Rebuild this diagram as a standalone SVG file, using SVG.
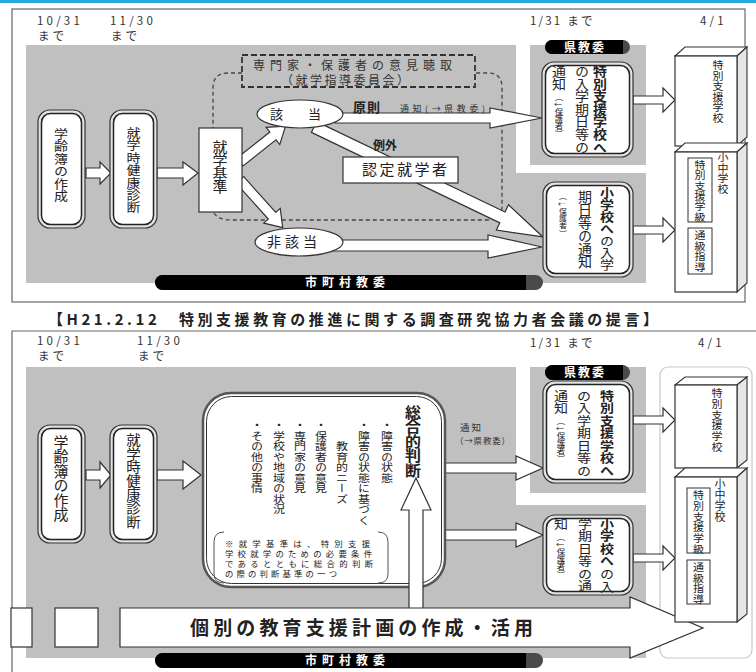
<svg xmlns="http://www.w3.org/2000/svg" width="756" height="672" viewBox="0 0 756 672" font-family="'Noto Sans CJK JP', 'Noto Sans CJK SC', sans-serif">
<style>
text { fill:#222; }
.v { writing-mode: vertical-rl; }
.gray { fill:#c0c0c0; }
.frame { fill:none; stroke:#666; stroke-width:1.2; }
.arr { fill:#fff; stroke:#333; stroke-width:1.2; }
.bo { fill:#e2e2e2; stroke:#333; stroke-width:1.2; }
.bi { fill:#fff; stroke:#222; stroke-width:1.5; }
.box { fill:#fff; stroke:#333; stroke-width:1.2; }
.side { fill:#e6e6e6; stroke:#333; stroke-width:1.1; }
.top { fill:#fff; stroke:#333; stroke-width:1.1; }
.pillg { fill:#4a4a4a; }
.pillb { fill:#000; }
.pt { fill:#fff; font-weight:bold; font-size:12px; }
.date { font-size:11.5px; fill:#333; }
.dash { fill:none; stroke:#444; stroke-width:1.3; stroke-dasharray:4 3; }
.dashf { fill:none; stroke:#333; stroke-width:1.8; stroke-dasharray:6 3; }
.lbl { fill:#333; }
.note { font-size:8.4px; fill:#222; }
</style>
<rect x="0" y="0" width="756" height="3" fill="#29a8e0"/>

<!-- ===== TOP PANEL ===== -->
<g id="top-panel-bg">
<rect class="frame" x="12" y="9" width="733" height="293"/>
<path class="gray" d="M26,45 H516 V173 H646 V283 H26 Z"/>
<rect class="gray" x="530" y="45" width="116" height="120"/>
<text class="date" x="37" y="24.5" letter-spacing="3.2">10/31</text>
<text class="date" x="38" y="40" letter-spacing="3">まで</text>
<text class="date" x="110" y="24.5" letter-spacing="3.2">11/30</text>
<text class="date" x="111" y="40" letter-spacing="3">まで</text>
<text class="date" x="530" y="25" letter-spacing="2.2">1/31 まで</text>
<text class="date" x="700" y="25" letter-spacing="3.2">4/1</text>
</g>

<g id="connectors-top">
<path class="dash" d="M242,73 H228 Q213,73 213,88 V128"/>
<path class="dash" d="M214,213 Q218,220 232,220 H488 Q502,220 502,206 V88 Q502,73 488,73 H475"/>
<polygon class="arr" points="86,168 100,168 100,162 111,173 100,184 100,178 86,178"/>
<polygon class="arr" points="157,168 183,168 183,162 198,173 183,185 183,178 157,178"/>
<polygon class="arr" transform="translate(240,162) rotate(-38.3)" points="0,-5 42,-5 42,-11 58,0 42,11 42,5 0,5"/>
<polygon class="arr" transform="translate(240,180) rotate(48.1)" points="0,-5 48,-5 48,-11 64,0 48,11 48,5 0,5"/>
<polygon class="arr" points="335,113 490,113 490,108 542,118 490,128 490,123 335,123"/>
<polygon class="arr" transform="translate(314,127) rotate(25.65)" points="0,-6 209,-6 209,-14 254,0 209,14 209,6 0,6"/>
<polygon class="arr" points="330,240 488,240 488,235 542,247 488,258 488,251 330,251"/>
<polygon class="arr" points="633,96 663,96 663,88 675,100 663,112 663,104 633,104"/>
<polygon class="arr" points="633,226 663,226 663,218 675,230 663,242 663,234 633,234"/>
<text x="353" y="112" font-size="13" font-weight="bold" letter-spacing="1">原則</text>
<text class="lbl" x="400" y="111.5" font-size="9" textLength="85" lengthAdjust="spacing">通知(→県教委)</text>
<text x="373" y="150" font-size="12" font-weight="bold">例外</text>
</g>

<g id="t-gakureibo">
<rect class="bo" x="38" y="110" width="47" height="118" rx="12"/>
<rect class="bi" x="41.5" y="113.5" width="40" height="111" rx="9"/>
<text class="v" transform="translate(61,128) scale(1,0.89)" font-size="14">学齢簿の作成</text>
</g>
<g id="t-kenshin">
<rect class="bo" x="110" y="110" width="47" height="118" rx="12"/>
<rect class="bi" x="113.5" y="113.5" width="40" height="111" rx="9"/>
<text class="v" transform="translate(133.5,127) scale(1,0.886)" font-size="14">就学時健康診断</text>
</g>
<g id="t-kijun">
<rect class="box" x="199" y="128" width="43" height="84"/>
<text class="v" transform="translate(220,140) scale(1,0.9)" font-size="15">就学基準</text>
</g>
<g id="t-iken">
<rect class="dashf" x="242" y="55" width="233" height="32"/>
<text class="lbl" x="253" y="70" font-size="12" letter-spacing="5">専門家・保護者の意見聴取</text>
<text class="lbl" x="281" y="85" font-size="12" letter-spacing="2.5">（就学指導委員会）</text>
</g>
<g id="t-gaitou">
<ellipse class="box" cx="300" cy="114" rx="43" ry="14"/>
<text x="270" y="119" font-size="13" letter-spacing="6">該　当</text>
</g>
<g id="t-higaitou">
<ellipse class="box" cx="299" cy="242" rx="44" ry="14"/>
<text x="267" y="247" font-size="14" letter-spacing="4">非該当</text>
</g>
<g id="t-nintei">
<rect class="box" x="343" y="157" width="115" height="26"/>
<text x="362" y="175" font-size="15" letter-spacing="2.5">認定就学者</text>
</g>
<g id="t-kenkyoi">
<rect class="pillg" x="545" y="40" width="85" height="14" rx="7"/>
<path class="pillb" d="M552,40 H623 V54 H552 A7,7 0 0 1 552,40 Z"/>
<text class="pt" x="564" y="51.5" letter-spacing="2">県教委</text>
</g>
<g id="t-notice-tokubetsu">
<rect class="bo" x="542" y="62" width="91" height="95" rx="12"/>
<rect class="bi" x="545.5" y="65.5" width="84" height="88" rx="9"/>
<text class="v" transform="translate(600,65) scale(1,0.9)" font-size="14" font-weight="bold">特別支援学校へ</text>
<text class="v" transform="translate(582,65) scale(1,0.9)" font-size="14">の入学期日等の</text>
<text class="v" transform="translate(559,65) scale(1,0.9)" font-size="14">通知</text>
<text class="v" transform="translate(559,93) scale(1,0.88)" font-size="8.5">（↓保護者）</text>
</g>
<g id="t-notice-shogakko">
<rect class="bo" x="543" y="182" width="90" height="95" rx="12"/>
<rect class="bi" x="546.5" y="185.5" width="83" height="88" rx="9"/>
<text class="v" transform="translate(607,187) scale(1,0.86)" font-size="14"><tspan font-weight="bold">小学校へ</tspan>の入学</text>
<text class="v" transform="translate(585,190) scale(1,0.94)" font-size="14">期日等の通知</text>
<text class="v" transform="translate(563,193) scale(1,0.91)" font-size="8">（↓保護者）</text>
</g>
<g id="t-shichoson">
<rect class="pillg" x="155" y="275" width="388" height="15" rx="7.5"/>
<path class="pillb" d="M162.5,275 H526 V290 H162.5 A7.5,7.5 0 0 1 162.5,275 Z"/>
<text class="pt" x="305" y="286.5" letter-spacing="5">市町村教委</text>
</g>
<g id="t-school-tokubetsu">
<polygon class="top" points="675,56 685,47 747,47 737,56"/>
<polygon class="side" points="737,56 747,47 747,137 737,146"/>
<rect class="box" x="675" y="56" width="62" height="90"/>
<text class="v" transform="translate(718,60) scale(1,0.955)" font-size="11">特別支援学校</text>
</g>
<g id="t-school-shochu">
<polygon class="top" points="675,152 685,143 747,143 737,152"/>
<polygon class="side" points="737,152 747,143 747,283 737,292"/>
<rect class="box" x="675" y="152" width="62" height="140"/>
<text class="v" transform="translate(723,152) scale(1,0.955)" font-size="11">小中学校</text>
<rect fill="none" stroke="#333" stroke-width="1" x="688" y="158" width="24" height="64"/>
<text class="v" transform="translate(700,160) scale(1,0.94)" font-size="11">特別支援学級</text>
<rect fill="none" stroke="#333" stroke-width="1" x="688" y="228" width="24" height="46"/>
<text class="v" transform="translate(700,230) scale(1,0.955)" font-size="11">通級指導</text>
</g>

<text id="title" x="48" y="325" font-size="15" font-weight="bold" textLength="610" lengthAdjust="spacing">【H21.2.12　特別支援教育の推進に関する調査研究協力者会議の提言】</text>

<!-- ===== BOTTOM PANEL ===== -->
<g id="bottom-panel-bg">
<path class="frame" d="M12,672 V331 H756"/>
<path class="gray" d="M26,367 H516 V505 H646 V658 H26 Z"/>
<rect class="gray" x="530" y="367" width="116" height="126"/>
<rect x="660" y="367" width="92" height="291" rx="8" fill="#fff" stroke="#c8c8c8" stroke-width="1.2"/>
<text class="date" x="37" y="344.5" letter-spacing="3.2">10/31</text>
<text class="date" x="38" y="360" letter-spacing="3">まで</text>
<text class="date" x="137" y="344.5" letter-spacing="3.2">11/30</text>
<text class="date" x="138" y="360" letter-spacing="3">まで</text>
<text class="date" x="530" y="347" letter-spacing="2.2">1/31 まで</text>
<text class="date" x="698" y="347" letter-spacing="3.2">4/1</text>
</g>

<g id="connectors-bottom">
<polygon class="arr" points="86,470 100,470 100,462 111,475 100,488 100,480 86,480"/>
<polygon class="arr" points="157,470 183,470 183,461 201,475 183,489 183,480 157,480"/>
<polygon class="arr" points="445,463 516,463 516,456 543,468 516,480 516,473 445,473"/>
<polygon class="arr" points="445,530 516,530 516,523 543,535 516,547 516,540 445,540"/>
<polygon class="arr" points="633,416 663,416 663,408 675,420 663,432 663,424 633,424"/>
<polygon class="arr" points="633,554 663,554 663,546 675,558 663,570 663,562 633,562"/>
<text class="lbl" x="460" y="430.5" font-size="9.5" letter-spacing="2">通知</text>
<text class="lbl" x="455" y="443.5" font-size="8.5" letter-spacing="0.8">（→県教委）</text>
</g>

<g id="b-gakureibo">
<rect class="bo" x="38" y="425" width="47" height="118" rx="12"/>
<rect class="bi" x="41.5" y="428.5" width="40" height="111" rx="9"/>
<text class="v" transform="translate(61,435) scale(1,0.967)" font-size="15">学齢簿の作成</text>
</g>
<g id="b-kenshin">
<rect class="bo" x="110" y="425" width="47" height="118" rx="12"/>
<rect class="bi" x="113.5" y="428.5" width="40" height="111" rx="9"/>
<text class="v" transform="translate(133.5,433) scale(1,0.94)" font-size="14.5">就学時健康診断</text>
</g>
<g id="b-sogo">
<rect fill="#fff" stroke="#555" stroke-width="2.5" x="203" y="393" width="242" height="194" rx="28"/>
<rect fill="none" stroke="#333" stroke-width="1" x="206.5" y="396.5" width="235" height="187" rx="25"/>
<text class="v" transform="translate(413,405) scale(1,0.906)" font-size="16" font-weight="bold">総合的判断</text>
<text class="v" transform="translate(387,420) scale(1,0.875)" font-size="12">・障害の状態</text>
<text class="v" transform="translate(364,420) scale(1,0.875)" font-size="12">・障害の状態に基づく</text>
<text class="v" transform="translate(342,441) scale(1,0.875)" font-size="12">教育的ニーズ</text>
<text class="v" transform="translate(321,420) scale(1,0.875)" font-size="12">・保護者の意見</text>
<text class="v" transform="translate(300,420) scale(1,0.875)" font-size="12">・専門家の意見</text>
<text class="v" transform="translate(279,420) scale(1,0.875)" font-size="12">・学校や地域の状況</text>
<text class="v" transform="translate(257,420) scale(1,0.875)" font-size="12">・その他の事情</text>
<path fill="none" stroke="#555" stroke-width="1" d="M224,532 Q214,532 214,542 V574 Q214,583 224,583"/>
<path fill="none" stroke="#555" stroke-width="1" d="M378,532 Q388,532 388,542 V574 Q388,583 378,583"/>
<text class="note" x="225" y="546.5" textLength="145" lengthAdjust="spacing">※就学基準は、特別支援</text>
<text class="note" x="225" y="556.8" textLength="147" lengthAdjust="spacing">学校就学のための必要条件</text>
<text class="note" x="225" y="567.1" textLength="148" lengthAdjust="spacing">であるとともに総合的判断</text>
<text class="note" x="225" y="577.4" textLength="112" lengthAdjust="spacing">の際の判断基準の一つ</text>
</g>
<g id="b-uparrow">
<polygon class="arr" points="409,609 409,510 401,510 416,478 431,510 423,510 423,609"/>
</g>
<g id="b-kobetsu">
<rect class="box" x="11" y="608" width="21" height="39"/>
<rect class="box" x="55" y="608" width="43" height="39"/>
<polygon class="arr" points="120,608 630,608 630,597 703,628 630,658 630,647 120,647"/>
<text x="190" y="635" font-size="19" font-weight="bold" textLength="343" lengthAdjust="spacing">個別の教育支援計画の作成・活用</text>
</g>
<g id="b-kenkyoi">
<rect class="pillg" x="545" y="365" width="85" height="15" rx="7.5"/>
<path class="pillb" d="M552.5,365 H623 V380 H552.5 A7.5,7.5 0 0 1 552.5,365 Z"/>
<text class="pt" x="564" y="377" letter-spacing="2">県教委</text>
</g>
<g id="b-notice-tokubetsu">
<rect class="bo" x="543" y="381" width="90" height="102" rx="12"/>
<rect class="bi" x="546.5" y="384.5" width="83" height="95" rx="9"/>
<text class="v" transform="translate(607,390) scale(1,0.893)" font-size="14" font-weight="bold">特別支援学校へ</text>
<text class="v" transform="translate(584,390) scale(1,0.893)" font-size="14">の入学期日等の</text>
<text class="v" transform="translate(561,390) scale(1,0.893)" font-size="14">通知</text>
<text class="v" transform="translate(561,417) scale(1,0.9)" font-size="8.5">（↓保護者）</text>
</g>
<g id="b-notice-shogakko">
<rect class="bo" x="543" y="515" width="90" height="80" rx="12"/>
<rect class="bi" x="546.5" y="518.5" width="83" height="73" rx="9"/>
<text class="v" transform="translate(607,518) scale(1,0.893)" font-size="14"><tspan font-weight="bold">小学校へ</tspan>の入</text>
<text class="v" transform="translate(585,518) scale(1,0.893)" font-size="14">学期日等の通</text>
<text class="v" transform="translate(561,518) scale(1,0.893)" font-size="14">知</text>
<text class="v" transform="translate(561,533) scale(1,0.9)" font-size="8.5">（↓保護者）</text>
</g>
<g id="b-shichoson">
<rect class="pillg" x="155" y="653" width="388" height="15" rx="7.5"/>
<path class="pillb" d="M162.5,653 H526 V668 H162.5 A7.5,7.5 0 0 1 162.5,653 Z"/>
<text class="pt" x="305" y="664.5" letter-spacing="5">市町村教委</text>
</g>
<g id="b-school-tokubetsu">
<polygon class="top" points="675,385 685,377 747,377 737,385"/>
<polygon class="side" points="737,385 747,377 747,460 737,468"/>
<rect class="box" x="675" y="385" width="62" height="83"/>
<text class="v" transform="translate(717,388) scale(1,0.97)" font-size="11">特別支援学校</text>
</g>
<g id="b-school-shochu">
<polygon class="top" points="675,477 685,468 747,468 737,477"/>
<polygon class="side" points="737,477 747,468 747,614 737,622"/>
<rect class="box" x="675" y="477" width="62" height="145"/>
<text class="v" transform="translate(720,478)" font-size="11">小中学校</text>
<rect fill="none" stroke="#333" stroke-width="1" x="687" y="488" width="23" height="65"/>
<text class="v" transform="translate(698.5,490) scale(1,0.97)" font-size="11">特別支援学級</text>
<rect fill="none" stroke="#333" stroke-width="1" x="687" y="560" width="23" height="44"/>
<text class="v" transform="translate(698.5,562) scale(1,0.95)" font-size="11">通級指導</text>
</g>
</svg>
